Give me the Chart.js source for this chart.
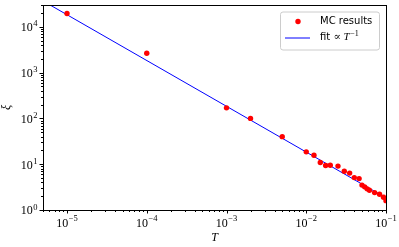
<!DOCTYPE html>
<html>
<head>
<meta charset="utf-8">
<script src="https://cdn.jsdelivr.net/npm/chart.js@4"></script>
<style>
	html, body { margin: 0; padding: 0; background: #fff; }
	#wrap { width: 399px; height: 247px; }
</style>
</head>
<body>
<div id="wrap"><canvas id="c" width="399" height="247"></canvas></div>
<script>
// MC results
const temps = [1e-5, 1e-4, 1e-3, 2e-3, 5e-3, 1e-2, 1.25e-2, 1.5e-2, 1.75e-2, 2e-2, 2.5e-2, 3e-2, 3.5e-2, 4e-2, 4.6e-2, 5e-2, 5.4e-2, 5.8e-2, 6.2e-2, 7.2e-2, 8.3e-2, 9.3e-2, 1e-1]
const xiValues = [19600, 2650, 170, 100, 40, 18.6, 15.7, 10.9, 9.4, 9.5, 9.1, 7.0, 6.4, 5.1, 4.85, 3.5, 3.2, 2.9, 2.7, 2.4, 2.2, 1.9, 1.6]

// fit line (two end points)
const fitT = [5e-6, 1e-1]
const fitXi = [36800, 1.84]

const xTicks = [1e-5, 1e-4, 1e-3, 1e-2, 1e-1]
const yTicks = [1, 10, 100, 1000, 10000]

const seriesLabels = ['MC results', 'fit \u221D T\u207B\u00B9']

const expOf = v => String(Math.round(Math.log10(v))).replace('-', '\u2212')

const serif = "'Liberation Serif', 'DejaVu Serif', serif"
const sans = "'DejaVu Sans', sans-serif"

// рамка, засечки и подписи 10^n как в matplotlib
const frameTicks = {
	id: 'frameTicks',
	afterDraw(chart) {
		const { ctx, chartArea: a, scales } = chart
		ctx.save()
		ctx.strokeStyle = '#000'
		ctx.lineWidth = 1
		ctx.strokeRect(Math.round(a.left) + 0.5, Math.round(a.top) + 0.5, Math.round(a.right - a.left), Math.round(a.bottom - a.top))

		const drawX = (v, len) => {
			const px = Math.round(scales.x.getPixelForValue(v)) + 0.5
			ctx.beginPath()
			ctx.moveTo(px, Math.round(a.bottom))
			ctx.lineTo(px, Math.round(a.bottom) + len)
			ctx.stroke()
		}
		const drawY = (v, len) => {
			const py = Math.round(scales.y.getPixelForValue(v)) + 0.5
			ctx.beginPath()
			ctx.moveTo(Math.round(a.left), py)
			ctx.lineTo(Math.round(a.left) - len, py)
			ctx.stroke()
		}
		for (let e = -6; e <= -1; e++) {
			for (let m = 1; m <= 9; m++) {
				const v = m * Math.pow(10, e)
				if (v < scales.x.min * 0.999 || v > scales.x.max * 1.001) continue
				drawX(v, m === 1 ? 3.5 : 2)
			}
		}
		for (let e = 0; e <= 4; e++) {
			for (let m = 1; m <= 9; m++) {
				const v = m * Math.pow(10, e)
				if (v < scales.y.min * 0.999 || v > scales.y.max * 1.001) continue
				drawY(v, m === 1 ? 3.5 : 2)
			}
		}

		// подписи
		ctx.fillStyle = '#000'
		ctx.textBaseline = 'alphabetic'
		ctx.textAlign = 'left'
		const baseFont = '12px ' + serif
		const supFont = '8.5px ' + serif
		const widths = exp => {
			ctx.font = baseFont
			const w1 = ctx.measureText('10').width
			ctx.font = supFont
			const w2 = ctx.measureText(exp).width
			return [w1, w2]
		}
		xTicks.forEach(v => {
			const exp = expOf(v)
			const [w1, w2] = widths(exp)
			const px = scales.x.getPixelForValue(v)
			const x0 = px - (w1 + w2 + 0.5) / 2
			const by = a.bottom + 17
			ctx.font = baseFont
			ctx.fillText('10', x0, by)
			ctx.font = supFont
			ctx.fillText(exp, x0 + w1 + 0.5, by - 6.5)
		})
		yTicks.forEach(v => {
			const exp = expOf(v)
			const [w1, w2] = widths(exp)
			const py = scales.y.getPixelForValue(v)
			const xr = a.left - 5.5
			const x0 = xr - (w1 + w2 + 0.5)
			ctx.font = baseFont
			ctx.fillText('10', x0, py + 4.4)
			ctx.font = supFont
			ctx.fillText(exp, x0 + w1 + 0.5, py - 0.5)
		})
		ctx.restore()
	},
}

// легенда в правом верхнем углу
const boxLegend = {
	id: 'boxLegend',
	afterDraw(chart) {
		const { ctx, chartArea: a } = chart
		const x0 = a.right - 106, y0 = a.top + 6.5, w = 99, h = 38
		ctx.save()
		ctx.beginPath()
		ctx.roundRect(x0 + 0.5, y0 + 0.5, w, h, 2.5)
		ctx.fillStyle = 'rgba(255,255,255,0.8)'
		ctx.fill()
		ctx.strokeStyle = '#cccccc'
		ctx.lineWidth = 1
		ctx.stroke()

		ctx.fillStyle = '#ff0000'
		ctx.beginPath()
		ctx.arc(x0 + 18, y0 + 10, 2.7, 0, Math.PI * 2)
		ctx.fill()

		ctx.strokeStyle = '#0000ff'
		ctx.lineWidth = 1
		ctx.beginPath()
		ctx.moveTo(x0 + 5, y0 + 26.5)
		ctx.lineTo(x0 + 30, y0 + 26.5)
		ctx.stroke()

		ctx.fillStyle = '#000'
		ctx.textBaseline = 'middle'
		ctx.font = '10px ' + sans
		ctx.fillText(seriesLabels[0], x0 + 40, y0 + 10)

		let tx = x0 + 40
		const ty = y0 + 26
		ctx.font = '10px ' + sans
		ctx.fillText('fit ', tx, ty)
		tx += ctx.measureText('fit ').width
		ctx.font = '11px ' + serif
		ctx.fillText('\u221D ', tx, ty)
		tx += ctx.measureText('\u221D ').width
		ctx.font = 'italic 11px ' + serif
		ctx.fillText('T', tx, ty)
		tx += ctx.measureText('T').width + 0.5
		ctx.font = '8px ' + serif
		ctx.fillText('\u22121', tx, ty - 4)
		ctx.restore()
	},
}

new Chart(document.getElementById('c'), {
	type: 'scatter',
	data: {
		datasets: [
			{
				label: seriesLabels[0],
				data: temps.map((t, i) => ({ x: t, y: xiValues[i] })),
				backgroundColor: '#ff0000',
				borderWidth: 0,
				pointRadius: 2.7,
				pointHoverRadius: 2.7,
				order: 1,
			},
			{
				label: seriesLabels[1],
				type: 'line',
				data: fitT.map((t, i) => ({ x: t, y: fitXi[i] })),
				borderColor: '#0000ff',
				borderWidth: 1,
				pointRadius: 0,
				fill: false,
				order: 2,
			},
		],
	},
	options: {
		responsive: false,
		animation: false,
		events: [],
		layout: { padding: { top: 5, right: 13, left: 0, bottom: 0 } },
		plugins: {
			legend: { display: false },
			tooltip: { enabled: false },
		},
		scales: {
			x: {
				type: 'logarithmic',
				min: 5e-6,
				max: 1e-1,
				afterBuildTicks: s => { s.ticks = xTicks.map(v => ({ value: v })) },
				afterFit: s => {
					s.height = 37
					s.paddingLeft = 0
					s.paddingRight = 0
				},
				grid: { display: false },
				border: { display: false },
				ticks: { display: false },
				title: {
					display: true,
					text: 'T',
					color: '#000',
					font: { family: serif, size: 12, style: 'italic' },
					padding: { top: 0, bottom: 2 },
				},
			},
			y: {
				type: 'logarithmic',
				min: 1,
				max: 3e4,
				afterBuildTicks: s => { s.ticks = yTicks.map(v => ({ value: v })) },
				afterFit: s => {
					s.width = 43
					s.paddingTop = 0
					s.paddingBottom = 0
				},
				grid: { display: false },
				border: { display: false },
				ticks: { display: false },
				title: {
					display: true,
					text: '\u03BE',
					color: '#000',
					font: { family: serif, size: 12, style: 'italic' },
					padding: { top: 0, bottom: 0 },
				},
			},
		},
	},
	plugins: [frameTicks, boxLegend],
})
</script>
</body>
</html>
